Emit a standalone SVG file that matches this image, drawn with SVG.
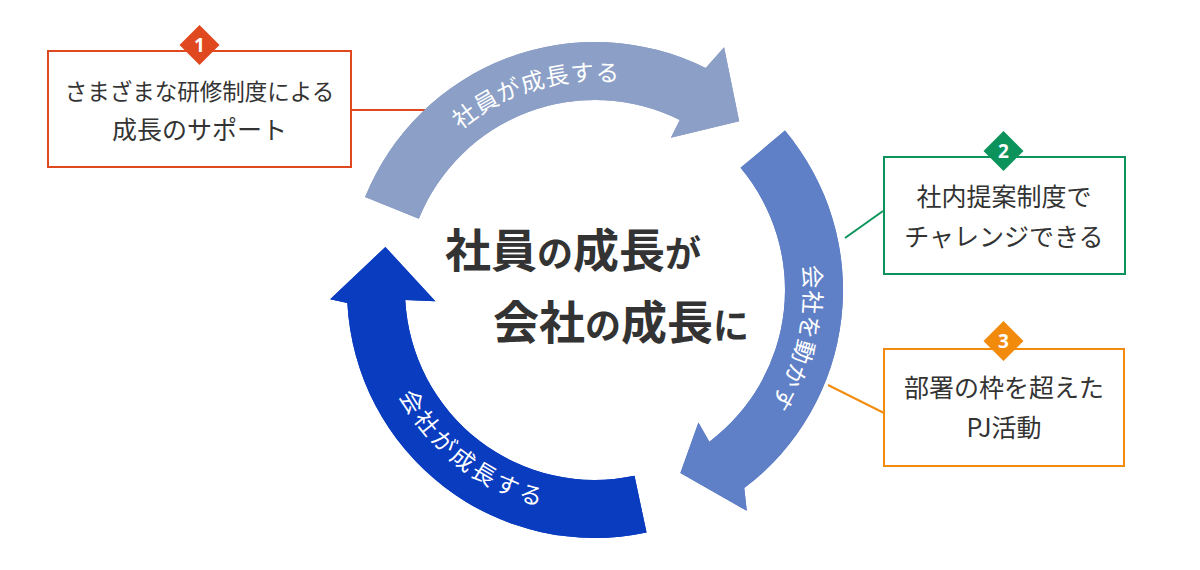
<svg xmlns="http://www.w3.org/2000/svg" xmlns:xlink="http://www.w3.org/1999/xlink" width="1200" height="570" viewBox="0 0 1200 570">
  <style>
    .box { fill: #ffffff; stroke-width: 2; }
    .btxt { font-family: "Noto Sans CJK JP", "Noto Sans", sans-serif; font-size: 25px; fill: #333333; text-anchor: middle; }
    .num { font-family: "Noto Sans", "Noto Sans CJK JP", sans-serif; font-size: 19px; font-weight: 700; fill: #ffffff; text-anchor: middle; }
    .arctxt { font-family: "Noto Sans CJK JP", sans-serif; font-size: 23.5px; fill: #ffffff; letter-spacing: 2px; dominant-baseline: central; }
    .big { font-family: "Noto Sans CJK JP", sans-serif; font-size: 46px; font-weight: 700; fill: #333333; }
    .kana { font-size: 36px; }
    .conn { stroke-width: 2; fill: none; }
  </style>
  <defs>
    <pattern id="stripes" width="6" height="6" patternUnits="userSpaceOnUse" patternTransform="rotate(-45)">
      <rect x="0" y="0" width="6" height="1.2" fill="#000000" fill-opacity="0.1"/>
    </pattern>
    <path id="tp1" d="M391.95,207.96 A219,219 0 0 1 692.72,94.01"/>
    <path id="tp2" d="M762.76,149.23 A219,219 0 0 1 726.80,464.90"/>
    <path id="tp3" d="M382.29,301.15 A213,213 0 0 0 639.28,498.35"/>
  </defs>
  <rect width="1200" height="570" fill="#ffffff"/>

  <g id="connectors">
    <line class="conn" x1="351" y1="110" x2="428" y2="110" stroke="#e0481f"/>
    <line class="conn" x1="883" y1="211" x2="845" y2="238" stroke="#0c935c"/>
    <line class="conn" x1="828" y1="385" x2="884" y2="413" stroke="#f28b0c"/>
  </g>

  <g id="arrow-employee">
    <path id="a1" d="M365.06,197.10 A248,248 0 0 1 705.66,68.06 L724.10,47.19 L739.18,121.19 L670.85,137.86 L679.78,119.96 A190,190 0 0 0 418.84,218.82 Z" fill="#8c9fc6"/>
    <use xlink:href="#a1" href="#a1" fill="url(#stripes)"/>
    <text class="arctxt"><textPath xlink:href="#tp1" href="#tp1" startOffset="54.5%" text-anchor="middle">社員が成長する</textPath></text>
  </g>

  <g id="arrow-move">
    <path id="a2" d="M784.98,130.59 A248,248 0 0 1 744.25,488.06 L746.80,510.87 L680.37,473.07 L698.43,422.39 L709.35,441.74 A190,190 0 0 0 740.55,167.87 Z" fill="#5f7fc6"/>
    <use xlink:href="#a2" href="#a2" fill="url(#stripes)"/>
    <text class="arctxt"><textPath xlink:href="#tp2" href="#tp2" startOffset="57.5%" text-anchor="middle">会社を動かす</textPath></text>
  </g>

  <g id="arrow-company">
    <path id="a3" d="M646.56,532.58 A248,248 0 0 1 347.34,302.98 L330.16,299.25 L385.37,246.97 L435.39,301.16 L405.26,299.94 A190,190 0 0 0 634.50,475.85 Z" fill="#0a3cc0"/>
    <use xlink:href="#a3" href="#a3" fill="url(#stripes)"/>
    <text class="arctxt"><textPath xlink:href="#tp3" href="#tp3" startOffset="49.8%" text-anchor="middle">会社が成長する</textPath></text>
  </g>

  <g id="center-title">
    <text class="big" x="445" y="267">社員<tspan class="kana">の</tspan>成長<tspan class="kana">が</tspan></text>
    <text class="big" x="493" y="339">会社<tspan class="kana">の</tspan>成長<tspan class="kana">に</tspan></text>
  </g>

  <g id="box1">
    <rect class="box" x="48" y="51" width="303" height="116" stroke="#e0481f"/>
    <polygon points="199.5,25 219.5,45 199.5,65 179.5,45" fill="#e0481f"/>
    <text class="num" x="199.5" y="52">1</text>
    <text class="btxt" x="199.5" y="100" style="font-size:22.5px">さまざまな研修制度による</text>
    <text class="btxt" x="199.5" y="139">成長のサポート</text>
  </g>

  <g id="box2">
    <rect class="box" x="884" y="157" width="241" height="117" stroke="#0c935c"/>
    <polygon points="1003.5,131 1023.5,151 1003.5,171 983.5,151" fill="#0c935c"/>
    <text class="num" x="1003.5" y="158">2</text>
    <text class="btxt" x="1004" y="206">社内提案制度で</text>
    <text class="btxt" x="1004" y="246">チャレンジできる</text>
  </g>

  <g id="box3">
    <rect class="box" x="884" y="349" width="240" height="117" stroke="#f28b0c"/>
    <polygon points="1003.5,321 1023.5,341 1003.5,361 983.5,341" fill="#f28b0c"/>
    <text class="num" x="1003.5" y="348">3</text>
    <text class="btxt" x="1004" y="397">部署の枠を超えた</text>
    <text class="btxt" x="1004" y="437">PJ活動</text>
  </g>
</svg>
